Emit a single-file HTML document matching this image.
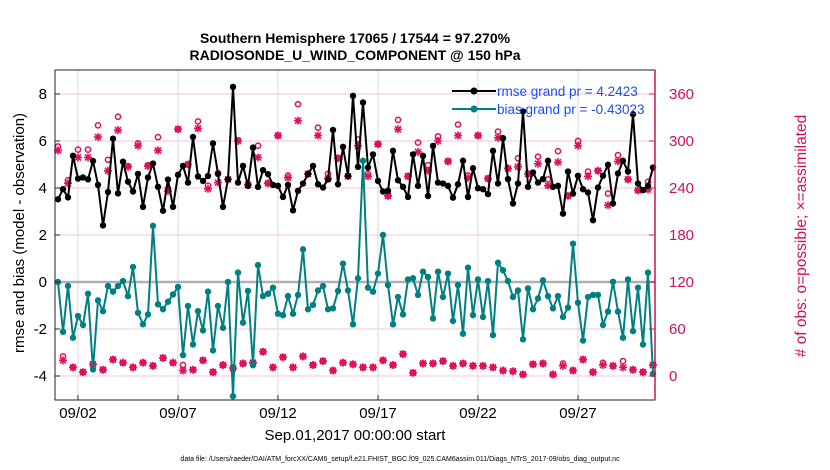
<!DOCTYPE html>
<html><head><meta charset="utf-8"><style>
body{margin:0;background:#fff;}
svg{display:block;font-family:"Liberation Sans",sans-serif;}
</style></head><body>
<svg id="chart" width="830" height="470" viewBox="0 0 830 470">
<text x="355" y="43" text-anchor="middle" font-size="14" font-weight="bold">Southern Hemisphere 17065 / 17544 = 97.270%</text>
<text x="355" y="60" text-anchor="middle" font-size="14" font-weight="bold">RADIOSONDE_U_WIND_COMPONENT @ 150 hPa</text>
<g id="grid"></g>
<g id="series"></g>
<rect x="55" y="70" width="600" height="330" fill="none" stroke="#222" stroke-width="1"/>
<g id="axes"></g>
<text transform="translate(24,233) rotate(-90)" text-anchor="middle" font-size="15">rmse and bias (model - observation)</text>
<text transform="translate(806,236) rotate(-90)" text-anchor="middle" font-size="15.5" fill="#d0105a"># of obs: o=possible; ×=assimilated</text>
<text x="355" y="440" text-anchor="middle" font-size="15">Sep.01,2017 00:00:00 start</text>
<text x="400" y="461" text-anchor="middle" font-size="7">data file: /Users/raeder/DAI/ATM_forcXX/CAM6_setup/f.e21.FHIST_BGC.f09_025.CAM6assim.011/Diags_NTrS_2017-09/obs_diag_output.nc</text>
<g>
<line x1="452" y1="91" x2="496" y2="91" stroke="#000" stroke-width="2"/><circle cx="474" cy="91" r="3.5" fill="#000"/>
<text x="497" y="96" font-size="13.5" fill="#1a4cff">rmse grand pr = 4.2423</text>
<line x1="452" y1="109" x2="496" y2="109" stroke="#008080" stroke-width="2"/><circle cx="474" cy="109" r="3.5" fill="#008080"/>
<text x="497" y="114" font-size="13.5" fill="#1a4cff">bias grand pr = -0.43023</text>
</g>
</svg>
<script>
const rmse=[3.52,3.95,3.6,5.37,4.4,4.45,4.37,5.15,4.13,2.41,3.83,6.1,3.77,5.12,4.27,3.85,4.6,3.2,4.45,5.04,4.05,3.03,4.36,3.2,4.56,4.94,4.23,6.17,4.49,4.3,4.51,5.9,4.6,3.2,4.37,8.3,4.23,4.94,4.09,5.72,4.05,
4.76,4.59,4.13,4.09,3.62,4.13,3.05,3.88,4.19,4.59,4.94,4.16,4.02,4.37,6.47,4.16,5.75,4.51,7.92,4.9,7.64,4.87,5.43,4.3,3.85,3.88,5.58,4.33,4.05,3.62,5.43,4.09,5.37,3.66,5.79,4.23,4.19,4.09,3.59,4.16,
5.16,3.62,4.84,3.99,3.95,3.74,5.58,4.19,6.12,4.38,3.34,4.19,7.26,4.05,4.66,4.23,4.38,5.16,4.05,4.09,2.91,4.7,3.76,4.52,3.95,3.81,2.63,4.02,4.52,4.99,3.34,4.62,5.16,4.7,7.14,4.19,3.91,4.09,4.87];
const bias=[0,-2.12,-0.17,-2.37,-1.45,-1.83,-0.5,-3.72,-0.78,-1.24,-0.17,-0.41,-0.17,0.04,-0.6,0.64,-1.31,-1.8,-1.38,2.39,-0.95,-1.16,-0.84,-0.53,-0.21,-3.11,-1.02,-2.66,-1.24,-2.06,-0.41,-2.91,-1.02,-1.95,0,-4.86,0.4,-1.73,-0.38,-3.54,0.72,
-0.6,-0.5,-0.24,-1.35,-1.41,-0.6,-1.35,-0.55,1.39,-1.16,-0.98,-0.36,-0.17,-1.16,-1.12,-0.38,0.78,-0.36,-1.8,0.16,5.16,-0.24,-0.41,0.36,2.0,-0.13,-1.8,-0.64,-1.38,0.11,0.16,-0.55,0.44,0.21,-1.55,0.44,-0.64,0.36,-1.66,-0.13,
-2.2,0.61,-1.41,0.11,-1.49,0.04,-2.26,0.82,0.5,0.04,-0.64,-0.36,-2.44,-0.27,-1.16,-0.7,0.07,-0.6,-1.12,-0.6,-1.49,-1.09,1.63,-0.88,-2.49,-0.64,-0.55,-0.55,-1.83,-1.26,0.01,-1.26,-2.37,0.11,-2.09,-0.24,-2.66,0.4,-3.91];
const obsAssim=[288,20,246,11,279,5,279,15,305,8,262,21,314,17,267,11,294,17,268,13,288,23,236,17,315,7,270,8,316,20,239,5,247,14,251,10,300,16,244,17,279,
31,246,11,307,24,253,11,326,25,258,14,307,19,252,7,278,17,255,15,294,11,255,11,296,20,230,14,315,28,255,4,286,16,262,16,300,19,274,13,307,
16,253,13,307,13,252,11,304,7,265,6,267,2,258,15,271,16,243,2,273,13,230,7,294,21,255,5,262,14,218,13,274,11,251,8,237,5,238,14];
const obsPoss=[293,25,250,11,289,5,289,15,320,8,276,21,331,17,268,11,297,17,269,13,305,23,239,17,315,14,270,8,325,20,243,5,259,14,251,10,301,16,245,17,294,
31,246,11,307,24,256,11,347,25,258,14,317,19,258,7,278,17,255,15,302,11,258,11,296,20,230,14,327,28,255,4,298,16,269,16,306,19,274,13,321,
16,256,13,307,13,252,11,312,7,265,6,278,2,258,15,280,16,251,2,287,16,230,7,300,21,261,5,262,17,233,13,282,19,251,8,237,5,248,14];
const leftTicks=[-4,-2,0,2,4,6,8];
const rightTicks=[0,60,120,180,240,300,360];
const xTickDays=[1,6,11,16,21,26];
const xTickLabels=["09/02","09/07","09/12","09/17","09/22","09/27"];
const stepDays=0.25;

const NS="http://www.w3.org/2000/svg";
function xs(t){return 58+20*t;}
function yl(v){return 282-23.5*v;}
function yr(c){return 376-c*94/120;}
function mk(tag,attrs,parent){const e=document.createElementNS(NS,tag);for(const k in attrs)e.setAttribute(k,attrs[k]);parent.appendChild(e);return e;}
const grid=document.getElementById('grid'),ser=document.getElementById('series'),axes=document.getElementById('axes');
rightTicks.forEach(c=>{const l=mk('line',{x1:55,x2:655,y1:yr(c),y2:yr(c),stroke:'#f4c6d8','stroke-width':1},grid);

});
xTickDays.forEach(d=>{const l=mk('line',{x1:xs(d),x2:xs(d),y1:70,y2:400,stroke:'#d8d8d8','stroke-width':1},grid);

});
const zl=mk('line',{x1:55,x2:655,y1:yl(0),y2:yl(0),stroke:'#b0b0b0','stroke-width':2.5},grid);


function ast(x,y,p){const s=4;const d=`M${x-s},${y}H${x+s}M${x},${y-s}V${y+s}M${x-3},${y-3}L${x+3},${y+3}M${x-3},${y+3}L${x+3},${y-3}`;return mk('path',{d:d,stroke:'#e0105a','stroke-width':1.6,fill:'none'},p);}
obsPoss.forEach((c,i)=>{const e=mk('circle',{cx:xs(i*stepDays),cy:yr(c),r:2.6,fill:'none',stroke:'#e0105a','stroke-width':1.5},ser);

});
obsAssim.forEach((c,i)=>{const e=ast(xs(i*stepDays),yr(c),ser);

});
function line(vals,col,name){const pts=vals.map((v,i)=>xs(i*stepDays)+','+yl(v)).join(' ');
const pl=mk('polyline',{points:pts,fill:'none',stroke:col,'stroke-width':2,'stroke-linejoin':'round'},ser);


vals.forEach((v,i)=>{const c=mk('circle',{cx:xs(i*stepDays),cy:yl(v),r:3.2,fill:col},ser);

});}
line(bias,'#008080','bias');
line(rmse,'#000','rmse');
const ra=mk('line',{x1:655,x2:655,y1:70,y2:400,stroke:'#d0105a','stroke-width':1.5},axes);


leftTicks.forEach(v=>{mk('line',{x1:55,x2:60,y1:yl(v),y2:yl(v),stroke:'#222'},axes);
const t=mk('text',{x:47,y:yl(v)+5,'text-anchor':'end','font-size':15},axes);t.textContent=v;

});
rightTicks.forEach(c=>{mk('line',{x1:649,x2:655,y1:yr(c),y2:yr(c),stroke:'#d0105a'},axes);
const t=mk('text',{x:669,y:yr(c)+5,'font-size':15,fill:'#d0105a'},axes);t.textContent=c;

});
xTickDays.forEach((d,i)=>{mk('line',{x1:xs(d),x2:xs(d),y1:395,y2:400,stroke:'#222'},axes);
const t=mk('text',{x:xs(d),y:418,'text-anchor':'middle','font-size':15},axes);t.textContent=xTickLabels[i];

});
</script>
</body></html>
